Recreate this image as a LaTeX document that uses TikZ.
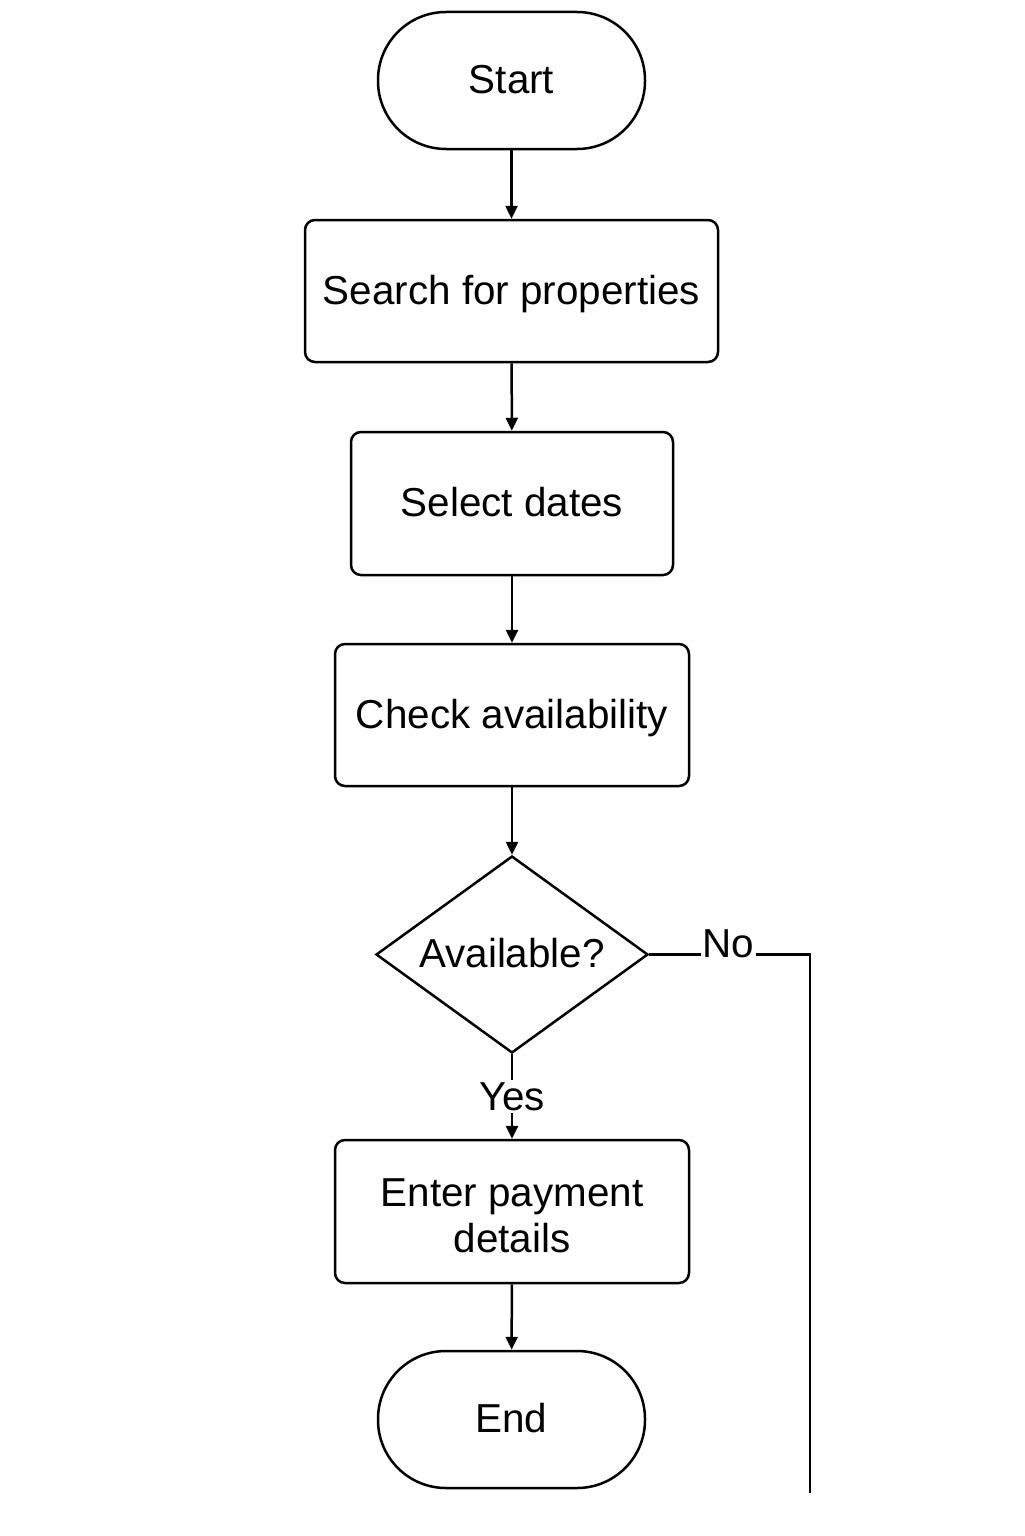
\documentclass[tikz,border=0pt]{standalone}
\usepackage{fontspec}
\setmainfont{Liberation Sans}
\usetikzlibrary{shapes.geometric,arrows.meta}
\begin{document}
\begin{tikzpicture}[x=0.5pt,y=-0.5pt,
  every node/.style={font=\fontsize{20.2}{23}\selectfont},
  line/.style={line width=1.25pt},
  arr/.style={line, -{Triangle[length=6.5pt,width=6pt]}},
  oneline/.style={text height=14.5pt, text depth=1.5pt},
  terminal/.style={draw, line width=1.25pt, rounded corners=34pt, minimum width=133.5pt, minimum height=68.5pt, inner sep=0pt, oneline},
  procbox/.style={draw, line width=1.25pt, rounded corners=5pt, minimum height=71pt, inner sep=0pt, align=center},
  decision/.style={draw, line width=1.25pt, diamond, aspect=1.38, minimum width=136pt, minimum height=98.5pt, inner sep=0pt, oneline},
  lbl/.style={fill=white, inner sep=1pt}]
\useasboundingbox (0,0) rectangle (1024,1536);
\node[terminal] (start) at (511.5,80.5) {Start};
\node[procbox, oneline, minimum width=206.5pt] (search) at (511.5,291) {Search for properties};
\node[procbox, oneline, minimum width=161pt, minimum height=71.5pt] (select) at (512,503.5) {Select dates};
\node[procbox, oneline, minimum width=177pt] (check) at (512,715) {Check availability};
\node[decision] (avail) at (512,954.5) {Available?};
\node[procbox, minimum width=177pt, minimum height=71.5pt] (pay) at (512,1211.5) {\raisebox{-4.25pt}[\height][\depth]{\begin{tabular}{@{}c@{}}Enter payment\\details\end{tabular}}};
\node[terminal] (end) at (511.5,1419.5) {End};
\coordinate (noturn) at (810,954.5);
\coordinate (noend) at (810,1493);
\draw[arr] (start) -- (search);
\draw[arr] (search) -- (select);
\draw[arr] (select) -- (check);
\draw[arr] (check) -- (avail);
\draw[arr] (avail) -- node[lbl] {Yes} (pay);
\draw[arr] (pay) -- (end);
\draw[line] (avail.east) -- (noturn) -- (noend);
\node[lbl, anchor=base] (nolbl) at (728.5,957) {No};
\end{tikzpicture}
\end{document}
